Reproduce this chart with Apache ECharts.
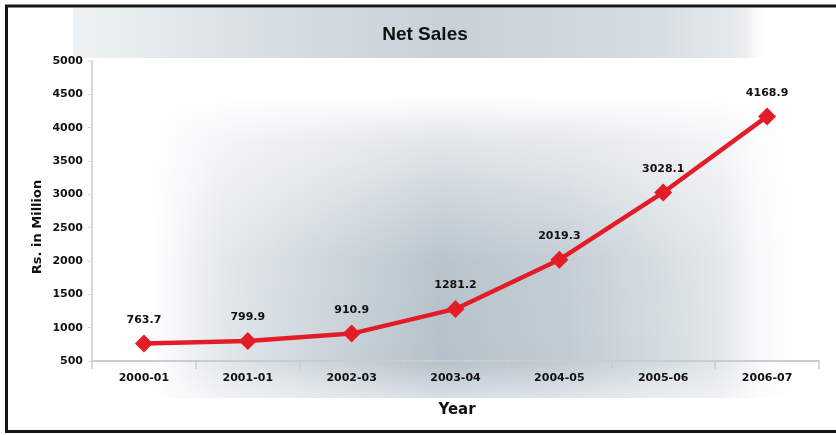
<!DOCTYPE html>
<html>
<head>
<meta charset="utf-8">
<script src="https://cdn.jsdelivr.net/npm/echarts@6/dist/echarts.min.js"></script>
<style>html,body{margin:0;padding:0;background:#fff}#c{width:836px;height:435px}</style>
</head>
<body>
<div id="c"></div>
<script>
var categories = ['2000-01', '2001-01', '2002-03', '2003-04', '2004-05', '2005-06', '2006-07'];
var netSales = [763.7, 799.9, 910.9, 1281.2, 2019.3, 3028.1, 4168.9];
var yTicks = { min: 500, max: 5000, interval: 500 };
var titleText = 'Net Sales';
var yName = 'Rs. in Million';
var xName = 'Year';

var chart = echarts.init(document.getElementById('c'), null, { renderer: 'canvas' });
var F = 'DejaVu Sans';
chart.setOption({
  animation: false,
  backgroundColor: '#ffffff',
  grid: { left: 92, right: 17, top: 61, bottom: 74, containLabel: false },
  graphic: [
    { type: 'rect', z: -10, silent: true, shape: { x: 150, y: 95, width: 645, height: 303 },
      style: { fill: new echarts.graphic.LinearGradient(0, 0, 1, 0, [
        { offset: 0, color: 'rgba(255,255,255,1)' },
        { offset: 0.12, color: '#e0e6ea' },
        { offset: 0.45, color: '#b5c1ca' },
        { offset: 0.65, color: '#c2ccd4' },
        { offset: 0.88, color: '#e0e6e9' },
        { offset: 0.94, color: '#f6f8f9' },
        { offset: 1, color: 'rgba(255,255,255,1)' }
      ]) } },
    { type: 'rect', z: -9, silent: true, shape: { x: 150, y: 95, width: 645, height: 303 },
      style: { fill: new echarts.graphic.LinearGradient(0, 0, 0, 1, [
        { offset: 0, color: 'rgba(255,255,255,1)' },
        { offset: 0.15, color: 'rgba(255,255,255,0.6)' },
        { offset: 0.55, color: 'rgba(255,255,255,0.05)' },
        { offset: 0.88, color: 'rgba(255,255,255,0)' },
        { offset: 1, color: 'rgba(255,255,255,0.5)' }
      ]) } },
    { type: 'rect', z: -8, silent: true, shape: { x: 73, y: 8, width: 690, height: 50 },
      style: { fill: new echarts.graphic.LinearGradient(0, 0, 1, 0, [
        { offset: 0, color: '#eef2f4' },
        { offset: 0.3, color: '#d6dde2' },
        { offset: 0.55, color: '#c7d1d7' },
        { offset: 0.85, color: '#d6dde2' },
        { offset: 0.97, color: '#e8ecef' },
        { offset: 1, color: 'rgba(255,255,255,1)' }
      ]) } },
    { type: 'text', z: 10, silent: true, x: 425, y: 35,
      style: { text: titleText, font: 'bold 19px "Liberation Sans", Arial, sans-serif', fill: '#111', align: 'center', verticalAlign: 'middle' } },
    { type: 'text', z: 10, silent: true, x: 37.5, y: 227, rotation: Math.PI / 2,
      style: { text: yName, font: 'bold 13px "DejaVu Sans"', fill: '#111', align: 'center', verticalAlign: 'middle' } },
    { type: 'text', z: 10, silent: true, x: 457, y: 410,
      style: { text: xName, font: 'bold 15px "DejaVu Sans"', fill: '#111', align: 'center', verticalAlign: 'middle' } },
    { type: 'rect', z: 20, silent: true, shape: { x: 6.5, y: 6, width: 840, height: 425.5 },
      style: { fill: 'none', stroke: '#151515', lineWidth: 3 } }
  ],
  xAxis: {
    type: 'category', data: categories, boundaryGap: true,
    axisLine: { lineStyle: { color: '#c8cdd0', width: 2 } },
    axisTick: { show: true, length: 8, lineStyle: { color: '#c8cdd0', width: 1.5 } },
    axisLabel: { color: '#111', fontFamily: F, fontWeight: 'bold', fontSize: 11, margin: 12 },
    splitLine: { show: false }
  },
  yAxis: {
    type: 'value', min: yTicks.min, max: yTicks.max, interval: yTicks.interval,
    axisLine: { show: true, lineStyle: { color: '#d4d8db', width: 2 } },
    axisTick: { show: true, length: 4, lineStyle: { color: '#d4d8db' } },
    axisLabel: { color: '#111', fontFamily: F, fontWeight: 'bold', fontSize: 11, margin: 9,
      formatter: function (v) { return String(v); } },
    splitLine: { show: false }
  },
  series: [{
    type: 'line', data: netSales,
    symbol: 'diamond', symbolSize: 18,
    lineStyle: { color: '#e31d28', width: 4.5 },
    itemStyle: { color: '#e31d28' },
    label: { show: true, position: 'top', distance: 9, color: '#111', fontFamily: F, fontWeight: 'bold', fontSize: 11 },
    z: 5
  }]
});
</script>
</body>
</html>
